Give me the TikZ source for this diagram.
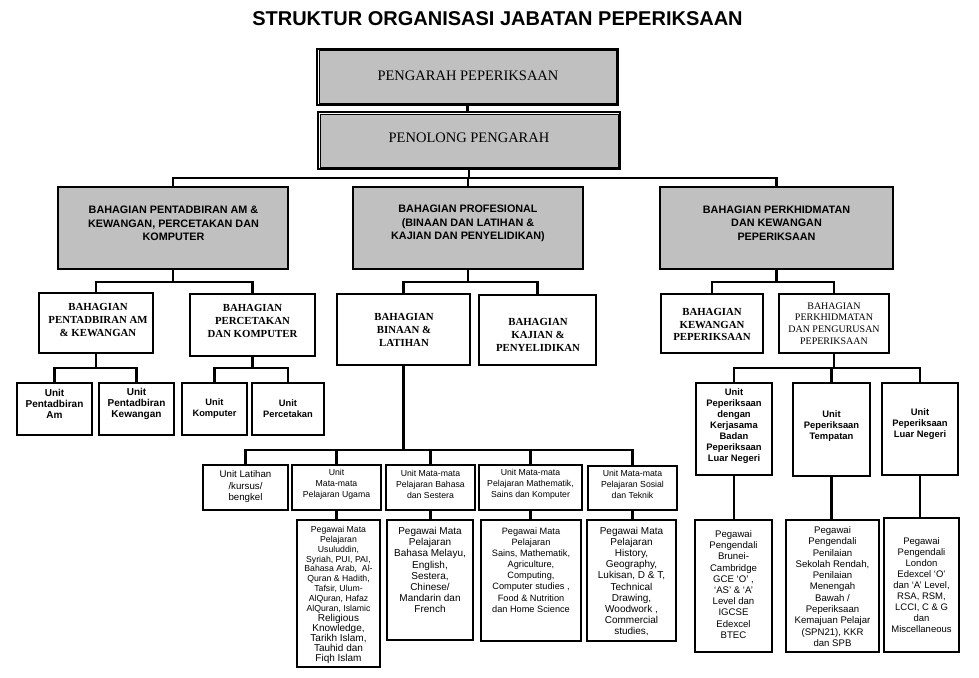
\documentclass[tikz,border=0pt]{standalone}
\usepackage{fontspec}
\newfontfamily\ars{Liberation Sans}
\newfontfamily\tnr{Liberation Serif}
\usetikzlibrary{fit}
\definecolor{boxgray}{RGB}{192,192,192}
\newcommand\fs[2]{\fontsize{#1}{#2}\selectfont}
\begin{document}
\begin{tikzpicture}[x=1pt,y=-1pt,
  box/.style={draw, line width=1.8pt, inner sep=0pt, fill=white},
  gbox/.style={box, fill=boxgray, line width=1.9pt},
  topbox/.style={box, line width=2.8pt},
  conn/.style={line width=2.2pt},
  txt/.style={align=center, inner sep=0pt},
  hd/.style={txt, font=\ars\bfseries\fs{10.8}{13.5}},
  sub/.style={txt, font=\tnr\bfseries\fs{10.8}{13}},
]
\fill[white] (0,0) rectangle (979,677);
\useasboundingbox (0,0) rectangle (979,677);

% title
\node[txt, font=\ars\bfseries\fs{20}{24}] (title) at (497.5,19) {STRUKTUR ORGANISASI JABATAN PEPERIKSAAN};

% top boxes
\node[topbox, fit={(317,49)(618,105)}] (p1) {};
\draw[line width=1pt, fill=boxgray] ([shift={(3.4,3.4)}]p1.north west) rectangle ([shift={(-3.4,-3.4)}]p1.south east);
\node[txt, font=\tnr\fs{14.5}{17}] (p1t) at (468,76) {PENGARAH PEPERIKSAAN};

\node[topbox, fit={(318,112)(620,169)}] (p2) {};
\draw[line width=1pt, fill=boxgray] ([shift={(3.4,3.4)}]p2.north west) rectangle ([shift={(-3.4,-3.4)}]p2.south east);
\node[txt, font=\tnr\fs{14.5}{17}] (p2t) at (469,138) {PENOLONG PENGARAH};

\draw[conn] (p1.south) -- (p1.south |- p2.north);

% level 2
\coordinate (bus1) at (0,178);
\node[gbox, fit={(58,187)(288,269)}] (ba) {};
\node[gbox, fit={(353,187)(583,269)}] (bb) {};
\node[gbox, fit={(660,187)(893,269)}] (bc) {};
\node[hd] (bat) at (173.5,223.5) {BAHAGIAN PENTADBIRAN AM \&\\KEWANGAN, PERCETAKAN DAN\\KOMPUTER};
\node[hd] (bbt) at (468,223.5) {BAHAGIAN PROFESIONAL\\(BINAAN DAN LATIHAN \&\\KAJIAN DAN PENYELIDIKAN)};
\node[hd] (bct) at (776.5,223) {BAHAGIAN PERKHIDMATAN\\DAN KEWANGAN\\PEPERIKSAAN};
\draw[conn] (p2.south) -- (p2.south |- bus1);
\draw[conn] (ba.north) -- (ba.north |- bus1) -- (bc.north |- bus1) -- (bc.north);
\draw[conn] (bb.north |- bus1) -- (bb.north);

% level 3
\coordinate (bus2) at (0,282);
\node[box, fit={(39,293)(153,353)}] (ba1) {};
\node[box, fit={(190,294)(315,356)}] (ba2) {};
\node[sub] (ba1t) at (98,320) {BAHAGIAN\\PENTADBIRAN AM\\\& KEWANGAN};
\node[sub] (ba2t) at (252.5,321) {BAHAGIAN\\PERCETAKAN\\DAN KOMPUTER};
\draw[conn] (ba.south) -- (ba.south |- bus2);
\draw[conn] (ba1.north) -- (ba1.north |- bus2) -- (ba2.north |- bus2) -- (ba2.north);

\node[box, fit={(337,294)(470,365)}] (bb1) {};
\node[box, fit={(479,295)(596,365)}] (bb2) {};
\node[sub] (bb1t) at (404,330) {BAHAGIAN\\BINAAN \&\\LATIHAN};
\node[sub] (bb2t) at (538,334.5) {BAHAGIAN\\KAJIAN \&\\PENYELIDIKAN};
\draw[conn] (bb.south) -- (bb.south |- bus2);
\draw[conn] (bb1.north) -- (bb1.north |- bus2) -- (bb2.north |- bus2) -- (bb2.north);

\node[box, fit={(661,294)(763,353)}] (bc1) {};
\node[box, fit={(779,294)(889,353)}] (bc2) {};
\node[txt, font=\tnr\bfseries\fs{10.8}{12.5}] (bc1t) at (712,324.5) {BAHAGIAN\\KEWANGAN\\PEPERIKSAAN};
\node[txt, font=\tnr\fs{10}{11.7}] (bc2t) at (834,323.5) {BAHAGIAN\\PERKHIDMATAN\\DAN PENGURUSAN\\PEPERIKSAAN};
\draw[conn] (bc.south) -- (bc.south |- bus2);
\draw[conn] (bc1.north) -- (bc1.north |- bus2) -- (bc2.north |- bus2) -- (bc2.north);

% level 4 left
\coordinate (bus3) at (0,368);
\node[box, fit={(17,383)(92,435)}] (u1) {};
\node[box, fit={(99,383)(174,435)}] (u2) {};
\node[box, fit={(182,383)(247,435)}] (u3) {};
\node[box, fit={(252,383)(324,435)}] (u4) {};
\node[txt, font=\ars\bfseries\fs{10}{11}] (u1t) at (54.5,404) {Unit\\Pentadbiran\\Am};
\node[txt, font=\ars\bfseries\fs{10}{11}] (u2t) at (136.5,404) {Unit\\Pentadbiran\\Kewangan};
\node[txt, font=\ars\bfseries\fs{9.3}{11}] (u3t) at (214.5,408.5) {Unit\\Komputer};
\node[txt, font=\ars\bfseries\fs{9.3}{11}] (u4t) at (288,408.5) {Unit\\Percetakan};
\draw[conn] (ba1.south) -- (ba1.south |- bus3);
\draw[conn] (u1.north) -- (u1.north |- bus3) -- (u2.north |- bus3) -- (u2.north);
\draw[conn] (ba2.south) -- (ba2.south |- bus3);
\draw[conn] (u3.north) -- (u3.north |- bus3) -- (u4.north |- bus3) -- (u4.north);

% level 4 right
\node[box, fit={(696,383)(772,475)}] (r1) {};
\node[box, fit={(793,383)(870,476)}] (r2) {};
\node[box, fit={(882,383)(958,475)}] (r3) {};
\node[txt, font=\ars\bfseries\fs{9.4}{11}] (r1t) at (734,426) {Unit\\Peperiksaan\\dengan\\Kerjasama\\Badan\\Peperiksaan\\Luar Negeri};
\node[txt, font=\ars\bfseries\fs{9.4}{11}] (r2t) at (831.5,426.5) {Unit\\Peperiksaan\\Tempatan};
\node[txt, font=\ars\bfseries\fs{9.4}{11}] (r3t) at (920,424.5) {Unit\\Peperiksaan\\Luar Negeri};
\draw[conn] (bc2.south) -- (bc2.south |- bus3);
\draw[conn] (r1.north) -- (r1.north |- bus3) -- (r3.north |- bus3) -- (r3.north);
\draw[conn] (r2.north |- bus3) -- (r2.north);

\node[box, fit={(695,520)(772,652)}] (tr1) {};
\node[box, fit={(786,520)(879,652)}] (tr2) {};
\node[box, fit={(884,518)(959,652)}] (tr3) {};
\node[txt, font=\ars\fs{9.6}{11.2}] (tr1t) at (733.5,584.5) {Pegawai\\Pengendali\\Brunei-\\Cambridge\\GCE ‘O’ ,\\‘AS’ \& ‘A’\\Level dan\\IGCSE\\Edexcel\\BTEC};
\node[txt, font=\ars\fs{9.6}{11.3}] (tr2t) at (832.5,586.5) {Pegawai\\Pengendali\\Penilaian\\Sekolah Rendah,\\Penilaian\\Menengah\\Bawah /\\Peperiksaan\\Kemajuan Pelajar\\(SPN21), KKR\\dan SPB};
\node[txt, font=\ars\fs{9.5}{11}] (tr3t) at (921.5,585) {Pegawai\\Pengendali\\London\\Edexcel ‘O’\\dan ‘A’ Level,\\RSA, RSM,\\LCCI, C \& G\\dan\\Miscellaneous};
\draw[conn] (r1.south) -- (r1.south |- tr1.north);
\draw[conn] (r2.south) -- (r2.south |- tr2.north);
\draw[conn] (r3.south) -- (r3.south |- tr3.north);

% level 5 middle
\coordinate (bus4) at (0,450);
\node[box, fit={(203,465)(288,510)}] (m1) {};
\node[box, fit={(292,465)(381,510)}] (m2) {};
\node[box, fit={(386,465)(475,510)}] (m3) {};
\node[box, fit={(479,465)(582,510)}] (m4) {};
\node[box, fit={(588,466)(677,510)}] (m5) {};
\node[txt, font=\ars\fs{9.7}{11.5}] (m1t) at (245.5,486.5) {Unit Latihan\\/kursus/\\bengkel};
\node[txt, font=\ars\fs{8.7}{11}] (m2t) at (336.5,484) {Unit\\Mata-mata\\Pelajaran Ugama};
\node[txt, font=\ars\fs{8.7}{11}] (m3t) at (430.5,484) {Unit Mata-mata\\Pelajaran Bahasa\\dan Sestera};
\node[txt, font=\ars\fs{8.7}{11}] (m4t) at (530.5,484) {Unit Mata-mata\\Pelajaran Mathematik,\\Sains dan Komputer};
\node[txt, font=\ars\fs{8.7}{11}] (m5t) at (632.5,484) {Unit Mata-mata\\Pelajaran Sosial\\dan Teknik};
\draw[conn] (bb1.south) -- (bb1.south |- bus4);
\draw[conn] (m1.north) -- (m1.north |- bus4) -- (m5.north |- bus4) -- (m5.north);
\draw[conn] (m2.north |- bus4) -- (m2.north);
\draw[conn] (m3.north |- bus4) -- (m3.north);
\draw[conn] (m4.north |- bus4) -- (m4.north);

\node[box, fit={(297,520)(380,667)}] (t2) {};
\node[box, fit={(387,520)(473,640)}] (t3) {};
\node[box, fit={(481,520)(581,641)}] (t4) {};
\node[box, fit={(587,520)(676,641)}] (t5) {};
\node[txt, font=\ars\fs{8.7}{9.9}] (t2ta) at (338.5,569.6) {Pegawai Mata\\Pelajaran\\Usuluddin,\\Syriah, PUI, PAI,\\Bahasa Arab,\ \ Al-\\Quran \& Hadith,\\Tafsir, Ulum-\\AlQuran, Hafaz\\AlQuran, Islamic};
\node[txt, font=\ars\fs{10}{9.9}] (t2tb) at (338.5,638.9) {Religious\\Knowledge,\\Tarikh Islam,\\Tauhid dan\\Fiqh Islam};
\node[txt, font=\ars\fs{10}{11.1}] (t3t) at (430,570) {Pegawai Mata\\Pelajaran\\Bahasa Melayu,\\English,\\Sestera,\\Chinese/\\Mandarin dan\\French};
\node[txt, font=\ars\fs{9.2}{11.1}] (t4t) at (531,570) {Pegawai Mata\\Pelajaran\\Sains, Mathematik,\\Agriculture,\\Computing,\\Computer studies ,\\Food \& Nutrition\\dan Home Science};
\node[txt, font=\ars\fs{10}{11.2}] (t5t) at (631.5,581.5) {Pegawai Mata\\Pelajaran\\History,\\Geography,\\Lukisan, D \& T,\\Technical\\Drawing,\\Woodwork ,\\Commercial\\studies,};
\draw[conn] (m2.south) -- (m2.south |- t2.north);
\draw[conn] (m3.south) -- (m3.south |- t3.north);
\draw[conn] (m4.south) -- (m4.south |- t4.north);
\draw[conn] (m5.south) -- (m5.south |- t5.north);
\end{tikzpicture}
\end{document}
